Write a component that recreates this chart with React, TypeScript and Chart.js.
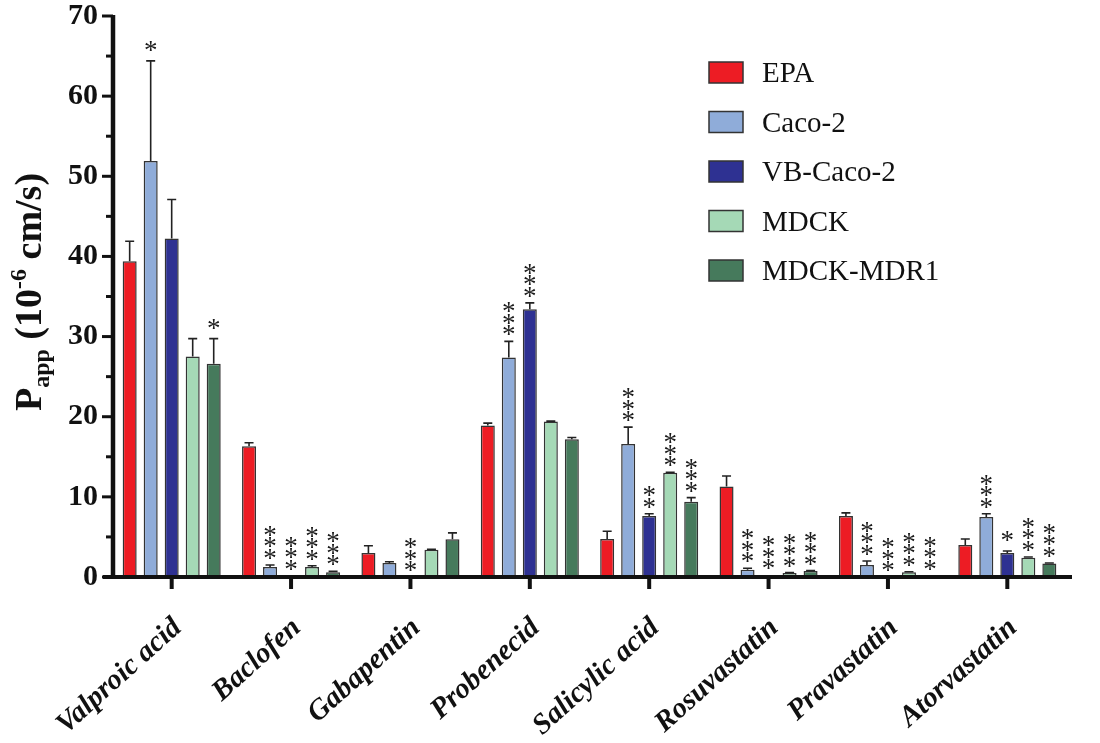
import React, { useEffect, useRef } from 'react';
import { Chart, registerables } from 'chart.js';
Chart.register(...registerables);

const categories = ['Valproic acid', 'Baclofen', 'Gabapentin', 'Probenecid', 'Salicylic acid', 'Rosuvastatin', 'Pravastatin', 'Atorvastatin'];
const seriesNames = ['EPA', 'Caco-2', 'VB-Caco-2', 'MDCK', 'MDCK-MDR1'];

const epaValues = [39.4, 16.3, 3.0, 18.9, 4.75, 11.3, 7.6, 4.0];
const cacoValues = [51.9, 1.25, 1.75, 27.4, 16.6, 0.9, 1.5, 7.5];
const vbCacoValues = [42.25, 0.15, 0, 33.4, 7.6, 0.2, 0, 3.0];
const mdckValues = [27.5, 1.25, 3.4, 19.4, 13.0, 0.5, 0.6, 2.4];
const mdr1Values = [26.6, 0.6, 4.7, 17.2, 9.4, 0.75, 0.15, 1.7];

const epaErrors = [2.5, 0.45, 0.9, 0.3, 0.95, 1.3, 0.4, 0.75];
const cacoErrors = [12.5, 0.25, 0.15, 2.0, 2.1, 0.2, 0.5, 0.4];
const vbCacoErrors = [4.85, 0, 0, 0.8, 0.3, 0, 0, 0.25];
const mdckErrors = [2.25, 0.15, 0.05, 0.05, 0.05, 0.05, 0.05, 0.1];
const mdr1Errors = [3.15, 0.1, 0.8, 0.2, 0.5, 0.05, 0, 0.05];

const epaSig = ['', '', '', '', '', '', '', ''];
const cacoSig = ['*', '***', '', '***', '***', '***', '***', '***'];
const vbCacoSig = ['', '***', '***', '***', '**', '***', '***', '*'];
const mdckSig = ['', '***', '', '', '***', '***', '***', '***'];
const mdr1Sig = ['*', '***', '', '', '***', '***', '***', '***'];

const yTickValues = [0, 10, 20, 30, 40, 50, 60, 70];
const yMinorTickValues = [5, 15, 25, 35, 45, 55, 65];

const seriesColors = ['#ED1C24', '#8FACD9', '#2E3192', '#A5D9B6', '#467A5C'];

const allValues = [epaValues, cacoValues, vbCacoValues, mdckValues, mdr1Values];
const allErrors = [epaErrors, cacoErrors, vbCacoErrors, mdckErrors, mdr1Errors];
const allSig = [epaSig, cacoSig, vbCacoSig, mdckSig, mdr1Sig];

const SERIF = '"Liberation Serif", "Times New Roman", serif';

const overlayPlugin = {
  id: 'overlay',
  afterDatasetsDraw(chart: any) {
    const ctx = chart.ctx as CanvasRenderingContext2D;
    const yScale = chart.scales.y;
    const xScale = chart.scales.x;
    const area = chart.chartArea;

    // error bars
    ctx.save();
    ctx.strokeStyle = '#222';
    ctx.lineWidth = 1.6;
    allValues.forEach((vals, d) => {
      const meta = chart.getDatasetMeta(d);
      vals.forEach((v, i) => {
        const err = allErrors[d][i];
        if (err <= 0) return;
        const bar = meta.data[i];
        const x = bar.x;
        const y0 = yScale.getPixelForValue(v);
        const y1 = yScale.getPixelForValue(v + err);
        ctx.beginPath();
        ctx.moveTo(x, y0);
        ctx.lineTo(x, y1);
        ctx.moveTo(x - 4.5, y1);
        ctx.lineTo(x + 4.5, y1);
        ctx.stroke();
      });
    });
    ctx.restore();

    // significance asterisks
    ctx.save();
    ctx.fillStyle = '#1a1a1a';
    const starSize = 27;
    ctx.font = `${starSize}px ${SERIF}`;
    ctx.textAlign = 'center';
    ctx.textBaseline = 'alphabetic';
    allSig.forEach((sigs, d) => {
      const meta = chart.getDatasetMeta(d);
      sigs.forEach((s, i) => {
        if (!s) return;
        const bar = meta.data[i];
        const top = yScale.getPixelForValue(allValues[d][i] + allErrors[d][i]);
        const n = s.length;
        const gap = n === 1 ? 15 : 11.5;
        for (let k = 0; k < n; k++) {
          const cy = top - gap - k * 11.5;
          ctx.fillText('*', bar.x, cy + starSize * 0.5);
        }
      });
    });
    ctx.restore();

    // axes
    ctx.save();
    ctx.strokeStyle = '#111';
    ctx.lineCap = 'butt';
    const axisX = area.left + 1;
    const axisY = yScale.getPixelForValue(0);
    ctx.lineWidth = 4.5;
    ctx.beginPath();
    ctx.moveTo(axisX, yScale.getPixelForValue(70) - 1);
    ctx.lineTo(axisX, axisY + 2);
    ctx.stroke();
    ctx.lineWidth = 4;
    ctx.beginPath();
    ctx.moveTo(axisX - 10, axisY);
    ctx.lineTo(area.right + 5, axisY);
    ctx.stroke();
    ctx.lineWidth = 3;
    yTickValues.forEach((v) => {
      const y = yScale.getPixelForValue(v);
      ctx.beginPath();
      ctx.moveTo(axisX - 11, y);
      ctx.lineTo(axisX, y);
      ctx.stroke();
    });
    yMinorTickValues.forEach((v) => {
      const y = yScale.getPixelForValue(v);
      ctx.beginPath();
      ctx.moveTo(axisX - 7, y);
      ctx.lineTo(axisX, y);
      ctx.stroke();
    });
    ctx.lineWidth = 4;
    categories.forEach((_, i) => {
      const x = xScale.getPixelForValue(i);
      ctx.beginPath();
      ctx.moveTo(x, axisY);
      ctx.lineTo(x, axisY + 12);
      ctx.stroke();
    });
    ctx.restore();

    // legend
    ctx.save();
    seriesNames.forEach((name, i) => {
      const rowY = 72.5 + i * 49.5;
      ctx.fillStyle = seriesColors[i];
      ctx.fillRect(709, rowY - 10.5, 34, 21);
      ctx.strokeStyle = '#333';
      ctx.lineWidth = 1.5;
      ctx.strokeRect(709, rowY - 10.5, 34, 21);
      ctx.fillStyle = '#111';
      ctx.font = `29px ${SERIF}`;
      ctx.textAlign = 'left';
      ctx.textBaseline = 'alphabetic';
      ctx.fillText(name, 762, rowY + 9.5);
    });
    ctx.restore();

    // y axis title: P_app (10^-6 cm/s)
    ctx.save();
    ctx.translate(41, 292);
    ctx.rotate(-Math.PI / 2);
    ctx.fillStyle = '#111';
    ctx.textBaseline = 'alphabetic';
    ctx.textAlign = 'left';
    const big = `bold 38px ${SERIF}`;
    const small = `bold 24px ${SERIF}`;
    const parts = [
      { t: 'P', f: big, dy: 0 },
      { t: 'app', f: small, dy: 8 },
      { t: ' (10', f: big, dy: 0 },
      { t: '-6', f: small, dy: -15 },
      { t: ' cm/s)', f: big, dy: 0 },
    ];
    let total = 0;
    parts.forEach((p) => {
      ctx.font = p.f;
      total += ctx.measureText(p.t).width;
    });
    let cx = -total / 2;
    parts.forEach((p) => {
      ctx.font = p.f;
      ctx.fillText(p.t, cx, p.dy);
      cx += ctx.measureText(p.t).width;
    });
    ctx.restore();
  },
};

export default function App() {
  const ref = useRef<HTMLCanvasElement>(null);
  useEffect(() => {
    document.body.style.margin = '0';
    const canvas = ref.current;
    if (!canvas) return;
    const chart = new Chart(canvas, {
      type: 'bar',
      data: {
        labels: categories,
        datasets: seriesNames.map((name, i) => ({
          label: name,
          data: allValues[i],
          backgroundColor: seriesColors[i],
          borderColor: '#333',
          borderWidth: 1.5,
          borderSkipped: false,
          categoryPercentage: 0.88,
          barPercentage: 0.667,
        })),
      },
      options: {
        responsive: false,
        animation: false,
        layout: { padding: { top: 16, right: 33, left: 0, bottom: 0 } },
        plugins: {
          legend: { display: false },
          tooltip: { enabled: false },
        },
        scales: {
          x: {
            grid: { display: false, drawTicks: false },
            border: { display: false },
            ticks: {
              autoSkip: false,
              minRotation: 42,
              maxRotation: 42,
              padding: 34,
              labelOffset: 6,
              color: '#111',
              font: { family: SERIF, size: 29, weight: 'bold', style: 'italic' },
            },
            afterFit: (scale: any) => {
              scale.height = 166;
            },
          },
          y: {
            min: 0,
            max: 70,
            grid: { display: false, drawTicks: false },
            border: { display: false },
            ticks: {
              stepSize: 10,
              padding: 14,
              color: '#111',
              font: { family: SERIF, size: 30, weight: 'bold', lineHeight: 1 },
            },
            afterFit: (scale: any) => {
              scale.width = 112;
              scale.paddingTop = 0;
              scale.paddingBottom = 0;
            },
          },
        },
      },
      plugins: [overlayPlugin],
    });
    return () => chart.destroy();
  }, []);
  return (
    <div style={{ width: 1100, height: 743 }}>
      <canvas ref={ref} width={1100} height={743} style={{ display: 'block' }} />
    </div>
  );
}
